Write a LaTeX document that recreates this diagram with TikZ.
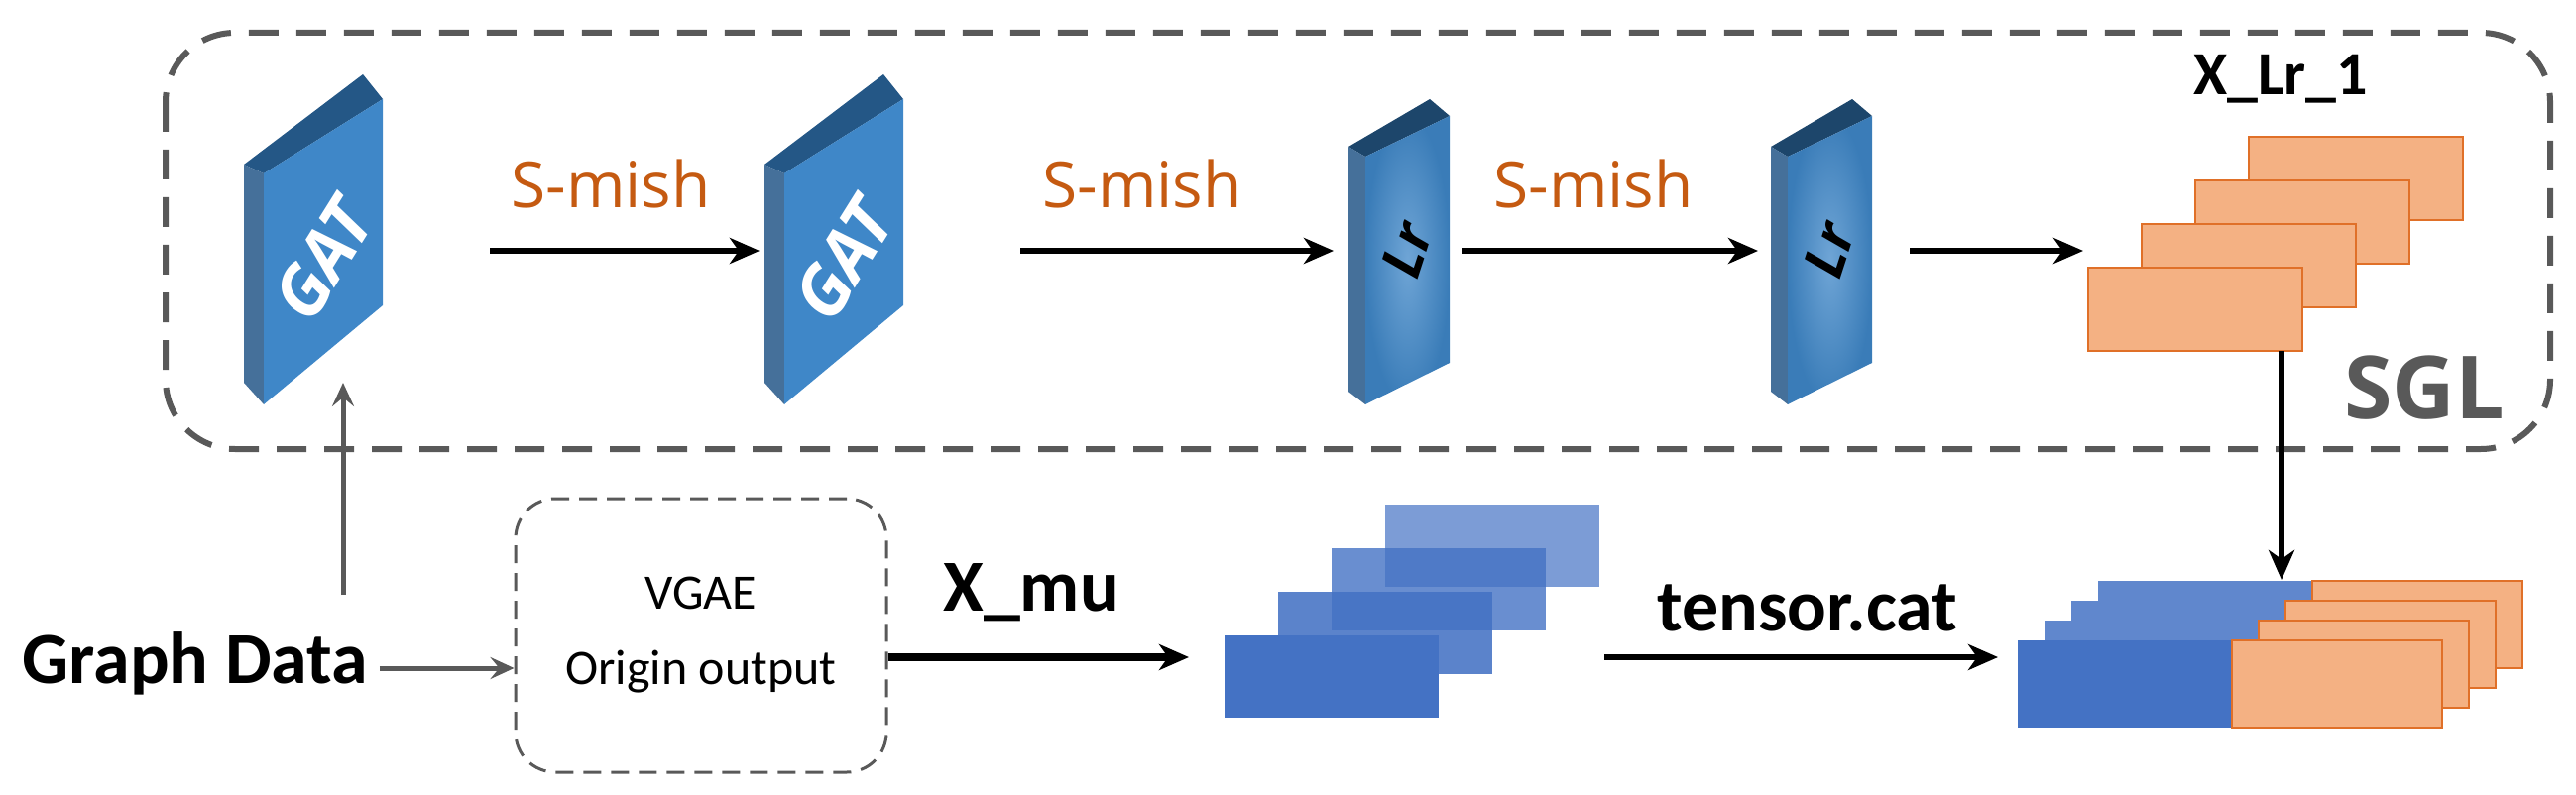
\documentclass[tikz,border=0pt]{standalone}
\usepackage{fontspec}
\setmainfont{Carlito}
\newfontfamily\osans{Open Sans}
\usetikzlibrary{arrows.meta}
\definecolor{fface}{HTML}{3F87C8}
\definecolor{ftop}{HTML}{245786}
\definecolor{fside}{HTML}{45709A}
\definecolor{sm}{HTML}{C55A11}
\definecolor{ob}{HTML}{F4B183}
\definecolor{oe}{HTML}{E07028}
\definecolor{bb}{HTML}{4472C4}
\definecolor{gr}{HTML}{595959}
\begin{document}
\begin{tikzpicture}[x=1pt,y=-1pt,
  arr/.style={line width=6.5pt,-{Stealth[length=30pt,width=26pt,inset=9pt]}},
  garr/.style={draw=gr,line width=5pt,-{Stealth[length=24pt,width=22pt,inset=9pt]}},
  lbl/.style={font=\osans\fontsize{64}{68}\selectfont,text=sm},
  bl/.style={font=\bfseries\fontsize{74}{80}\selectfont},
  orect/.style={fill=ob,draw=oe,line width=2.5pt},
]
\useasboundingbox (0,0) rectangle (2598,802);
% SGL box
\draw[gr,line width=6pt,dash pattern=on 30pt off 18pt,rounded corners=70pt] (167,33) rectangle (2572,453);
\node[font=\osans\bfseries\fontsize{88}{92}\selectfont,text=gr] (sgl) at (2445,391) {SGL};
% GAT blocks
\foreach \dx/\nm in {0/g1,525/g2}{
 \begin{scope}[xshift=\dx]
 \fill[ftop] (246,166)--(366,75)--(386,100)--(266,175)--cycle;
 \fill[fside] (246,166)--(266,175)--(266,408)--(246,386)--cycle;
 \fill[fface] (266,175)--(386,100)--(386,308)--(266,408)--cycle;
 \node[text=white,font=\osans\bfseries\itshape\fontsize{70}{74}\selectfont,rotate=58] (\nm) at (326,262) {GAT};
 \end{scope}}
% Lr blocks
\foreach \dx/\nm in {0/l1,426/l2}{
 \begin{scope}[xshift=\dx]
 \fill[ftop!80!black] (1360,148)--(1442,100)--(1462,117)--(1377,158)--cycle;
 \fill[fside] (1360,148)--(1377,158)--(1377,408)--(1360,395)--cycle;
 \shade[inner color=fface!75!white,outer color=fface!92!black] (1377,158)--(1462,117)--(1462,366)--(1377,408)--cycle;
 \node[text=black,font=\osans\bfseries\itshape\fontsize{56}{60}\selectfont,rotate=72] (\nm) at (1419,252) {Lr};
 \end{scope}}
\coordinate (a1s) at (494,253); \coordinate (a1e) at (766,253);
\coordinate (a2s) at (1029,253); \coordinate (a2e) at (1345,253);
\coordinate (a3s) at (1474,253); \coordinate (a3e) at (1773,253);
\coordinate (a4s) at (1926,253); \coordinate (a4e) at (2101,253);
\draw[arr] (a1s)--(a1e); \draw[arr] (a2s)--(a2e); \draw[arr] (a3s)--(a3e); \draw[arr] (a4s)--(a4e);
\node[lbl] (s1) at (616,186) {S-mish};
\node[lbl] (s2) at (1152,186) {S-mish};
\node[lbl] (s3) at (1607,186) {S-mish};
% orange stack
\foreach \i in {3,2,1,0}{
 \draw[orect] ({2106+54*\i},{270-44*\i}) rectangle ++(216,84);}
\coordinate (ofront) at (2301,354);
\node[font=\bfseries\fontsize{62}{66}\selectfont] (xlr) at (2300,80) {X\_Lr\_1};
% concat stack
\foreach \i in {3,2,1}{
 \fill[bb!85!white] ({2035+27*\i},{646-20*\i}) rectangle ++(216,88);
 \draw[orect] ({2251+27*\i},{646-20*\i}) rectangle ++(212,88);}
\fill[bb] (2035,646) rectangle ++(216,88);
\draw[orect] (2251,646) rectangle ++(212,88);
\coordinate (ctop) at (2301,585);
\draw[arr,line width=5.5pt] (ofront)--(ctop);
% blue stack
\foreach \i/\op in {3/0.7,2/0.8,1/0.88,0/1}{
 \fill[bb,opacity=\op] ({1235+54*\i},{641-44*\i}) rectangle ++(216,83);}
% Graph data & VGAE
\node[bl] (gd) at (197,669) {Graph Data};
\node[draw=gr,line width=3pt,dash pattern=on 18pt off 10pt,rounded corners=40pt,minimum width=374pt,minimum height=276pt,
  font=\fontsize{50}{76}\selectfont,align=center] (vg) at (707,641) {VGAE\\Origin output};
\draw[garr] (gd.east)++(8,5) coordinate (gde) -- (vg.west|-gde);
\coordinate (gup) at (346,600);
\draw[garr] (gup)--(346,386);
\draw[arr,line width=8pt] (vg.east|-0,663)--(1199,663);
\node[bl] (xmu) at (1040,598) {X\_mu};
\draw[arr] (1618,663)--(2015,663);
\node[bl] (tc) at (1823,613) {tensor.cat};
\end{tikzpicture}
\end{document}
